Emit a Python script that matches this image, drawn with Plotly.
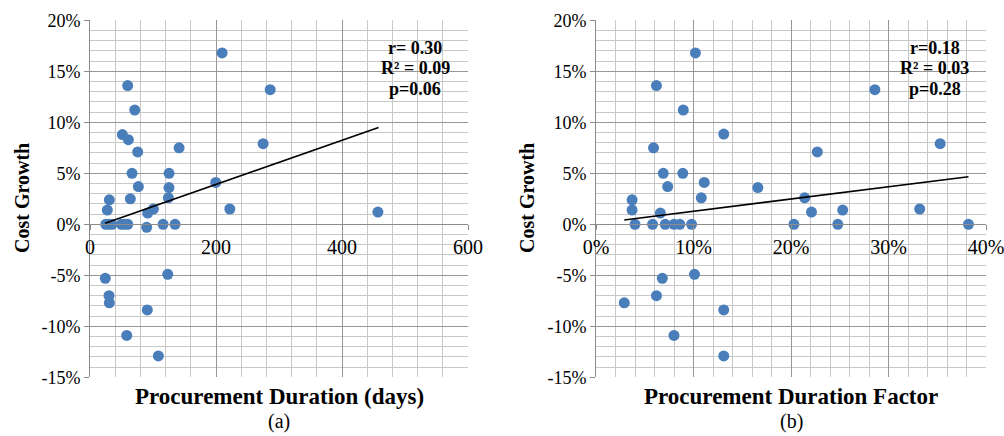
import plotly.graph_objects as go

# ---------------- data ----------------
# (a) Procurement duration (days) vs cost growth (%)
days_a = [209.7, 59.8, 286, 71, 51.4, 60.9, 274.8, 141.4, 75.7, 66.7, 125.5, 199.6,
          76.8, 125.4, 124.4, 64, 30.7, 221.9, 100.6, 27.5, 91.6, 457,
          25, 30, 35, 50, 55, 60, 116, 135, 90,
          24.3, 123.4, 30.2, 30.7, 91, 58.3, 108.5]
growth_a = [16.8, 13.6, 13.2, 11.2, 8.8, 8.3, 7.9, 7.5, 7.1, 5.0, 5.0, 4.1,
            3.7, 3.6, 2.6, 2.5, 2.4, 1.5, 1.5, 1.4, 1.1, 1.2,
            0, 0, 0, 0, 0, 0, 0, 0, -0.3,
            -5.3, -4.9, -7.0, -7.7, -8.4, -10.9, -12.9]
trend_a_x = [24, 458]
trend_a_y = [0.1, 9.5]
stats_a = ["r= 0.30", "R² = 0.09", "p=0.06"]

# (b) Procurement duration factor (%) vs cost growth (%)
factor_b = [10.2, 6.2, 28.6, 8.95, 13.1, 35.3, 5.9, 22.7, 6.9, 8.9, 11.1, 7.35,
            16.6, 10.8, 21.4, 3.7, 33.2, 3.7, 25.3, 22.1, 6.6,
            4.0, 5.8, 7.1, 8.0, 8.6, 9.8, 20.3, 24.8, 38.2,
            6.8, 10.1, 6.2, 2.9, 13.1, 8.0, 13.1]
growth_b = [16.8, 13.6, 13.2, 11.2, 8.85, 7.9, 7.5, 7.1, 5.0, 5.0, 4.1, 3.7,
            3.6, 2.6, 2.6, 2.4, 1.5, 1.4, 1.4, 1.2, 1.1,
            0, 0, 0, 0, 0, 0, 0, 0, 0,
            -5.3, -4.9, -7.0, -7.7, -8.4, -10.9, -12.9]
trend_b_x = [2.9, 38.2]
trend_b_y = [0.42, 4.67]
stats_b = ["r=0.18", "R² = 0.03", "p=0.28"]

y_ticks = [-15, -10, -5, 0, 5, 10, 15, 20]
y_ticktext = ["-15%", "-10%", "-5%", "0%", "5%", "10%", "15%", "20%"]
xa_ticks = [0, 200, 400, 600]
xa_ticktext = ["0", "200", "400", "600"]
xb_ticks = [0, 10, 20, 30, 40]
xb_ticktext = ["0%", "10%", "20%", "30%", "40%"]

# ---------------- style ----------------
SERIF = "Liberation Serif"
MARKER = "#4a7ebb"
MAJOR = "#979797"
MINOR = "#c8c8c8"
AXIS = "#8c8c8c"

W, H = 1004, 436
dom_a = [90 / W, 468 / W]
dom_b = [596 / W, 986 / W]
dom_y = [1 - 377.3 / H, 1 - 20.3 / H]
y_zero_paper = dom_y[0] + (0 - (-15)) / 35 * (dom_y[1] - dom_y[0])

fig = go.Figure()
fig.add_trace(go.Scatter(x=days_a, y=growth_a, mode="markers",
                         marker=dict(color=MARKER, size=11), xaxis="x", yaxis="y",
                         showlegend=False))
fig.add_trace(go.Scatter(x=trend_a_x, y=trend_a_y, mode="lines",
                         line=dict(color="black", width=1.6), xaxis="x", yaxis="y",
                         showlegend=False))
fig.add_trace(go.Scatter(x=factor_b, y=growth_b, mode="markers",
                         marker=dict(color=MARKER, size=11), xaxis="x2", yaxis="y2",
                         showlegend=False))
fig.add_trace(go.Scatter(x=trend_b_x, y=trend_b_y, mode="lines",
                         line=dict(color="black", width=1.6), xaxis="x2", yaxis="y2",
                         showlegend=False))


def tickfont(size):
    return dict(family=SERIF, size=size, color="black")


def xaxis(domain, rng, ticks, text, minor_dtick):
    return dict(domain=domain, range=rng, tickmode="array", tickvals=ticks, ticktext=text,
                anchor="free", position=y_zero_paper, automargin=False,
                ticklabeloverflow="allow",
                showgrid=True, gridcolor=MAJOR, gridwidth=1,
                minor=dict(dtick=minor_dtick, showgrid=True, gridcolor=MINOR, gridwidth=1.3,
                           ticks=""),
                showline=True, linecolor=AXIS, linewidth=1,
                ticks="outside", ticklen=5, tickcolor=AXIS,
                zeroline=False, tickfont=tickfont(20), fixedrange=True)


def yaxis(anchor):
    return dict(domain=dom_y, range=[-15, 20], tickmode="array", tickvals=y_ticks,
                ticktext=y_ticktext, anchor=anchor, automargin=False,
                ticklabeloverflow="allow",
                showgrid=True, gridcolor=MAJOR, gridwidth=1,
                minor=dict(dtick=1, showgrid=True, gridcolor=MINOR, gridwidth=1.3, ticks=""),
                showline=True, linecolor=AXIS, linewidth=1,
                ticks="outside", ticklen=5, tickcolor=AXIS,
                zeroline=False, tickfont=tickfont(18), fixedrange=True)


annotations = []
shapes = []
for xc, x0, x1, stats in [(415, 375, 455, stats_a), (934.5, 895, 975, stats_b)]:
    shapes.append(dict(type="rect", xref="paper", yref="paper",
                       x0=x0 / W, x1=x1 / W, y0=1 - 100 / H, y1=1 - 37 / H,
                       fillcolor="white", line=dict(width=0), layer="between"))
    for yy, s in zip([47.7, 68.3, 89.3], stats):
        annotations.append(dict(text="<b>%s</b>" % s, x=xc / W, y=1 - yy / H,
                                xref="paper", yref="paper", showarrow=False,
                                xanchor="center", yanchor="middle",
                                font=dict(family=SERIF, size=18, color="black")))

for xc, title, lab in [(279, "Procurement Duration (days)", "(a)"),
                       (791, "Procurement Duration Factor", "(b)")]:
    annotations.append(dict(text="<b>%s</b>" % title, x=xc / W, y=1 - 396 / H,
                            xref="paper", yref="paper", showarrow=False,
                            xanchor="center", yanchor="middle",
                            font=dict(family=SERIF, size=23, color="black")))
    annotations.append(dict(text=lab, x=xc / W, y=1 - 421 / H,
                            xref="paper", yref="paper", showarrow=False,
                            xanchor="center", yanchor="middle",
                            font=dict(family=SERIF, size=20, color="black")))

for xc in [22, 527]:
    annotations.append(dict(text="<b>Cost Growth</b>", x=xc / W, y=1 - 198 / H,
                            xref="paper", yref="paper", showarrow=False, textangle=-90,
                            xanchor="center", yanchor="middle",
                            font=dict(family=SERIF, size=20, color="black")))

fig.update_layout(
    width=W, height=H,
    margin=dict(l=0, r=0, t=0, b=0, autoexpand=False),
    font=dict(family=SERIF, color="black"),
    paper_bgcolor="white", plot_bgcolor="white",
    xaxis=xaxis(dom_a, [0, 600], xa_ticks, xa_ticktext, 40),
    xaxis2=xaxis(dom_b, [0, 40], xb_ticks, xb_ticktext, 2),
    yaxis=yaxis("x"), yaxis2=yaxis("x2"),
    annotations=annotations, shapes=shapes,
    showlegend=False,
)

fig.write_html("out.html", config={"displayModeBar": False},
               post_script="document.body.style.margin='0';document.body.style.overflow='hidden';")
